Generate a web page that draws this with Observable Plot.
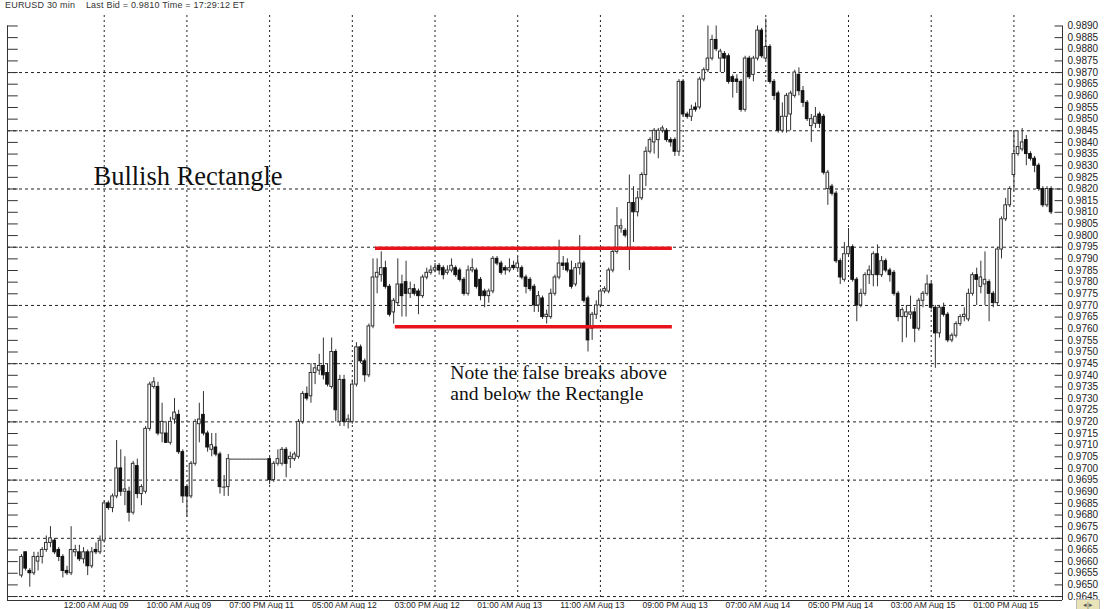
<!DOCTYPE html>
<html><head><meta charset="utf-8">
<script src="https://cdn.jsdelivr.net/npm/d3@7"></script>
<script src="https://cdn.jsdelivr.net/npm/@observablehq/plot@0.6"></script>
<style>
html,body{margin:0;padding:0;background:#fff;}
#wrap{position:relative;width:1107px;height:609px;overflow:hidden;background:#fff;}
#hdr{position:absolute;left:5px;top:0px;font:9px "Liberation Sans",Arial,sans-serif;color:#333;white-space:pre;letter-spacing:0.2px;}
#nav{position:absolute;left:1076px;top:599px;width:22px;height:9px;background:#e8e4b8;border:1px solid #bbb;font:7px "Liberation Sans",Arial,sans-serif;color:#555;line-height:9px;text-align:center;}
</style></head><body><div id="wrap"><div id="hdr">EURUSD 30 min    Last Bid = 0.9810 Time = 17:29:12 ET</div><div id="nav">◂|▸</div></div>
<script>
// 30-minute bars, index 0..249
const open = [
.9654,.9664,.9656,.9655,.9660,.9662,.9665,.9668,.9669,.9665,
.9662,.9656,.9655,.9664,.9664,.9661,.9664,.9658,.9665,.9664,
.9669,.9685,.9683,.9688,.9700,.9690,.9690,.9681,.9701,.9689,
.9690,.9717,.9735,.9735,.9715,.9715,.9711,.9721,.9723,.9707,
.9692,.9688,.9702,.9719,.9723,.9715,.9708,.9709,.9706,.9692,
.9692,.9704,.9704,.9704,.9704,.9704,.9704,.9704,.9704,.9704,
.9704,.9695,.9702,.9702,.9708,.9704,.9704,.9705,.9720,.9732,
.9731,.9741,.9742,.9744,.9741,.9735,.9750,.9720,.9738,.9720,
.9720,.9736,.9752,.9746,.9740,.9761,.9782,.9783,.9786,.9778,
.9767,.9771,.9779,.9780,.9775,.9777,.9776,.9774,.9782,.9784,
.9785,.9787,.9786,.9784,.9785,.9786,.9785,.9781,.9775,.9785,
.9785,.9781,.9776,.9774,.9776,.9790,.9788,.9786,.9785,.9787,
.9786,.9786,.9782,.9781,.9778,.9770,.9773,.9765,.9765,.9775,
.9782,.9788,.9788,.9785,.9779,.9786,.9788,.9773,.9760,.9766,
.9770,.9776,.9776,.9785,.9793,.9803,.9802,.9794,.9814,.9810,
.9816,.9826,.9836,.9840,.9841,.9845,.9845,.9841,.9841,.9836,
.9866,.9852,.9851,.9855,.9855,.9867,.9871,.9876,.9884,.9876,
.9878,.9877,.9868,.9867,.9866,.9854,.9876,.9869,.9876,.9888,
.9876,.9881,.9866,.9861,.9845,.9851,.9852,.9860,.9869,.9862,
.9857,.9847,.9848,.9852,.9851,.9820,.9821,.9818,.9789,.9781,
.9792,.9795,.9781,.9770,.9775,.9783,.9783,.9792,.9783,.9789,
.9785,.9784,.9775,.9765,.9765,.9766,.9767,.9760,.9772,.9775,
.9779,.9769,.9758,.9769,.9766,.9755,.9757,.9762,.9765,.9764,
.9775,.9783,.9778,.9779,.9780,.9775,.9771,.9794,.9807,.9813,
.9826,.9835,.9837,.9841,.9835,.9833,.9830,.9820,.9813,.9820];
const high = [
.9663,.9664,.9657,.9664,.9664,.9666,.9671,.9675,.9670,.9666,
.9663,.9658,.9675,.9667,.9667,.9666,.9665,.9666,.9668,.9671,
.9686,.9686,.9689,.9712,.9708,.9705,.9692,.9703,.9704,.9693,
.9718,.9737,.9739,.9737,.9728,.9720,.9722,.9730,.9725,.9708,
.9693,.9703,.9721,.9728,.9733,.9716,.9715,.9715,.9707,.9697,
.9706,.9704,.9704,.9704,.9704,.9704,.9704,.9704,.9704,.9704,
.9705,.9703,.9708,.9709,.9709,.9707,.9707,.9721,.9733,.9735,
.9745,.9745,.9749,.9756,.9745,.9756,.9751,.9740,.9740,.9723,
.9738,.9754,.9753,.9747,.9762,.9790,.9790,.9793,.9789,.9779,
.9773,.9790,.9783,.9789,.9780,.9779,.9777,.9783,.9786,.9787,
.9788,.9788,.9787,.9787,.9790,.9787,.9786,.9782,.9787,.9790,
.9786,.9782,.9777,.9777,.9791,.9791,.9789,.9787,.9790,.9789,
.9791,.9787,.9783,.9782,.9779,.9776,.9774,.9768,.9777,.9783,
.9798,.9791,.9790,.9789,.9788,.9800,.9789,.9774,.9767,.9772,
.9777,.9778,.9786,.9794,.9812,.9807,.9803,.9826,.9821,.9819,
.9827,.9838,.9842,.9846,.9846,.9847,.9846,.9842,.9842,.9867,
.9867,.9853,.9856,.9857,.9868,.9872,.9890,.9886,.9890,.9880,
.9879,.9878,.9869,.9869,.9867,.9877,.9877,.9877,.9890,.9889,
.9893,.9882,.9867,.9862,.9857,.9861,.9862,.9871,.9872,.9864,
.9858,.9852,.9855,.9853,.9852,.9828,.9822,.9819,.9790,.9797,
.9803,.9796,.9782,.9777,.9784,.9787,.9793,.9796,.9791,.9790,
.9786,.9785,.9776,.9769,.9770,.9774,.9769,.9773,.9776,.9783,
.9780,.9770,.9770,.9771,.9767,.9758,.9763,.9766,.9769,.9777,
.9784,.9786,.9789,.9793,.9781,.9776,.9795,.9808,.9816,.9821,
.9845,.9845,.9846,.9843,.9836,.9834,.9831,.9821,.9821,.9821];
const low = [
.9653,.9656,.9649,.9654,.9656,.9659,.9664,.9666,.9663,.9660,
.9653,.9654,.9654,.9662,.9660,.9659,.9654,.9657,.9663,.9663,
.9668,.9682,.9681,.9687,.9688,.9684,.9677,.9680,.9687,.9684,
.9689,.9716,.9734,.9714,.9711,.9711,.9710,.9719,.9706,.9685,
.9679,.9687,.9701,.9711,.9714,.9707,.9705,.9705,.9689,.9688,
.9688,.9704,.9704,.9704,.9704,.9704,.9704,.9704,.9704,.9704,
.9693,.9694,.9701,.9701,.9696,.9700,.9703,.9704,.9719,.9729,
.9728,.9736,.9740,.9738,.9735,.9734,.9720,.9718,.9718,.9717,
.9719,.9735,.9745,.9737,.9739,.9760,.9775,.9780,.9777,.9765,
.9762,.9770,.9765,.9765,.9773,.9774,.9766,.9773,.9781,.9783,
.9784,.9783,.9781,.9783,.9784,.9782,.9780,.9774,.9774,.9784,
.9777,.9772,.9769,.9771,.9775,.9787,.9783,.9783,.9784,.9785,
.9785,.9781,.9775,.9776,.9767,.9767,.9764,.9762,.9764,.9774,
.9781,.9785,.9784,.9777,.9778,.9783,.9771,.9750,.9755,.9764,
.9769,.9775,.9775,.9784,.9792,.9801,.9799,.9785,.9797,.9808,
.9815,.9821,.9835,.9835,.9833,.9844,.9840,.9838,.9834,.9834,
.9851,.9850,.9849,.9853,.9854,.9866,.9870,.9875,.9879,.9870,
.9870,.9865,.9859,.9861,.9853,.9853,.9867,.9866,.9875,.9876,
.9875,.9865,.9858,.9844,.9844,.9844,.9845,.9859,.9860,.9855,
.9849,.9840,.9846,.9846,.9826,.9813,.9817,.9788,.9779,.9780,
.9791,.9780,.9763,.9769,.9774,.9779,.9778,.9778,.9782,.9784,
.9780,.9774,.9763,.9754,.9756,.9764,.9754,.9759,.9769,.9774,
.9768,.9743,.9756,.9765,.9754,.9754,.9756,.9761,.9763,.9763,
.9774,.9770,.9775,.9770,.9763,.9769,.9770,.9790,.9806,.9812,
.9819,.9834,.9836,.9830,.9832,.9827,.9819,.9812,.9812,.9809];
const close = [
.9662,.9657,.9655,.9662,.9662,.9665,.9668,.9670,.9664,.9662,
.9656,.9655,.9665,.9665,.9661,.9664,.9658,.9664,.9664,.9669,
.9685,.9683,.9688,.9700,.9690,.9691,.9681,.9702,.9689,.9692,
.9717,.9736,.9737,.9715,.9720,.9711,.9720,.9724,.9707,.9688,
.9688,.9702,.9720,.9721,.9715,.9709,.9710,.9706,.9692,.9692,
.9704,.9704,.9704,.9704,.9704,.9704,.9704,.9704,.9704,.9704,
.9695,.9702,.9704,.9708,.9702,.9705,.9706,.9720,.9732,.9730,
.9741,.9743,.9744,.9740,.9736,.9750,.9725,.9738,.9720,.9721,
.9736,.9752,.9746,.9740,.9761,.9782,.9784,.9786,.9778,.9766,
.9772,.9779,.9774,.9775,.9777,.9775,.9774,.9782,.9784,.9785,
.9786,.9785,.9783,.9785,.9787,.9783,.9781,.9775,.9785,.9786,
.9778,.9774,.9774,.9776,.9790,.9788,.9784,.9785,.9786,.9786,
.9788,.9782,.9778,.9777,.9770,.9774,.9765,.9766,.9775,.9782,
.9788,.9787,.9785,.9778,.9786,.9788,.9772,.9755,.9766,.9770,
.9776,.9777,.9785,.9793,.9804,.9804,.9800,.9814,.9810,.9816,
.9826,.9836,.9841,.9845,.9845,.9846,.9841,.9840,.9836,.9866,
.9852,.9851,.9854,.9854,.9867,.9871,.9876,.9884,.9880,.9879,
.9876,.9866,.9866,.9866,.9854,.9876,.9868,.9876,.9888,.9877,
.9881,.9866,.9860,.9845,.9851,.9860,.9861,.9870,.9862,.9857,
.9850,.9850,.9851,.9848,.9827,.9827,.9818,.9789,.9782,.9792,
.9795,.9781,.9770,.9775,.9783,.9785,.9792,.9783,.9789,.9785,
.9783,.9775,.9765,.9768,.9767,.9767,.9760,.9772,.9775,.9779,
.9769,.9758,.9769,.9766,.9755,.9757,.9762,.9765,.9766,.9775,
.9783,.9781,.9782,.9781,.9775,.9771,.9794,.9807,.9813,.9820,
.9835,.9838,.9840,.9835,.9833,.9830,.9820,.9813,.9820,.9810];

// time axis: bar index of each grid line and its label
const gridBars = [20,40,60,80,100,120,140,160,180,200,220,240];
const timeLabels = ["12:00 AM Aug 09","10:00 AM Aug 09","07:00 PM Aug 11","05:00 AM Aug 12",
  "03:00 PM Aug 12","01:00 AM Aug 13","11:00 AM Aug 13","09:00 PM Aug 13",
  "07:00 AM Aug 14","05:00 PM Aug 14","03:00 AM Aug 15","01:00 PM Aug 15"];
// price axis
const priceTicks = [0.9645,0.9650,0.9655,0.9660,0.9665,0.9670,0.9675,0.9680,0.9685,0.9690,
  0.9695,0.9700,0.9705,0.9710,0.9715,0.9720,0.9725,0.9730,0.9735,0.9740,
  0.9745,0.9750,0.9755,0.9760,0.9765,0.9770,0.9775,0.9780,0.9785,0.9790,
  0.9795,0.9800,0.9805,0.9810,0.9815,0.9820,0.9825,0.9830,0.9835,0.9840,
  0.9845,0.9850,0.9855,0.9860,0.9865,0.9870,0.9875,0.9880,0.9885,0.9890];
const gridPrices = [0.9645,0.9670,0.9695,0.9720,0.9745,0.9770,0.9795,0.9820,0.9845,0.9870];
// rectangle boundaries (price, from bar, to bar)
const rectLines = [
  {price: 0.97946, from: 85.6, to: 157.4},
  {price: 0.97609, from: 90.4, to: 157.4}
];
const notes = [
  {text: "Bullish Rectangle", bar: 17.4, price: 0.98219, size: 26.5},
  {text: "Note the false breaks above", bar: 103.7, price: 0.97386, size: 19.6},
  {text: "and below the Rectangle", bar: 103.7, price: 0.97292, size: 19.6}
];
const xDomain = [-3.39, 251.75];
const yDomain = [0.96433, 0.98945];

const bars = open.map((o, i) => ({i, o, h: high[i], l: low[i], c: close[i]}));
const up = bars.filter(d => d.c > d.o);
const down = bars.filter(d => d.c < d.o);
const flat = bars.filter(d => d.c === d.o);
const half = 0.32;

const chart = Plot.plot({
  width: 1107, height: 609,
  marginLeft: 7, marginRight: 45, marginTop: 15, marginBottom: 9,
  x: {domain: xDomain, axis: null},
  y: {domain: yDomain, axis: null},
  style: {fontFamily: "'Liberation Sans', Arial, sans-serif", background: "white", overflow: "visible"},
  marks: [
    Plot.ruleY(gridPrices, {stroke: "#222", strokeDasharray: "3,3", strokeWidth: 1}),
    Plot.ruleX(gridBars, {stroke: "#222", strokeDasharray: "2,3", strokeWidth: 1}),
    Plot.ruleX(bars, {x: "i", y1: "l", y2: "h", stroke: "#333", strokeWidth: 1}),
    Plot.rect(up, {x1: d => d.i - half, x2: d => d.i + half, y1: "o", y2: "c", fill: "white", stroke: "#333", strokeWidth: 1}),
    Plot.rect(down, {x1: d => d.i - half, x2: d => d.i + half, y1: "o", y2: "c", fill: "#111", stroke: "#111", strokeWidth: 1}),
    Plot.ruleY(flat, {y: "c", x1: d => d.i - 0.5, x2: d => d.i + 0.5, stroke: "#333", strokeWidth: 1}),
    Plot.ruleY(rectLines, {y: "price", x1: "from", x2: "to", stroke: "#e8141c", strokeWidth: 3.5}),
    Plot.text(notes, {x: "bar", y: "price", text: "text", fontSize: d => d.size, textAnchor: "start", lineAnchor: "bottom",
      fontFamily: "'Liberation Serif', 'Times New Roman', serif", fill: "#111"}),
    // frame lines
    Plot.ruleX([xDomain[0], xDomain[1]], {stroke: "#333", strokeWidth: 1, y1: yDomain[0], y2: 0.98900}),
    Plot.ruleY([yDomain[0]], {stroke: "#333", strokeWidth: 1}),
    // price ticks (inward) on both sides
    Plot.ruleY(priceTicks, {x1: xDomain[1] - 1.8, x2: xDomain[1], stroke: "#333", strokeWidth: 1}),
    Plot.ruleY(priceTicks, {x1: xDomain[0], x2: xDomain[0] + 2.6, stroke: "#333", strokeWidth: 1}),
    Plot.axisY({anchor: "right", ticks: priceTicks, tickSize: 0, tickPadding: 5, tickFormat: d3.format(".4f"),
      fontSize: 10, fill: "#222", label: null}),
    Plot.axisX({anchor: "bottom", ticks: gridBars, tickSize: 0, tickPadding: 1,
      tickFormat: d => timeLabels[gridBars.indexOf(d)], fontSize: 8.5, fill: "#222", dx: -8, label: null})
  ]
});
chart.style.position = "absolute";
chart.style.left = "0px";
chart.style.top = "0px";
document.getElementById("wrap").prepend(chart);
</script>
</body></html>
